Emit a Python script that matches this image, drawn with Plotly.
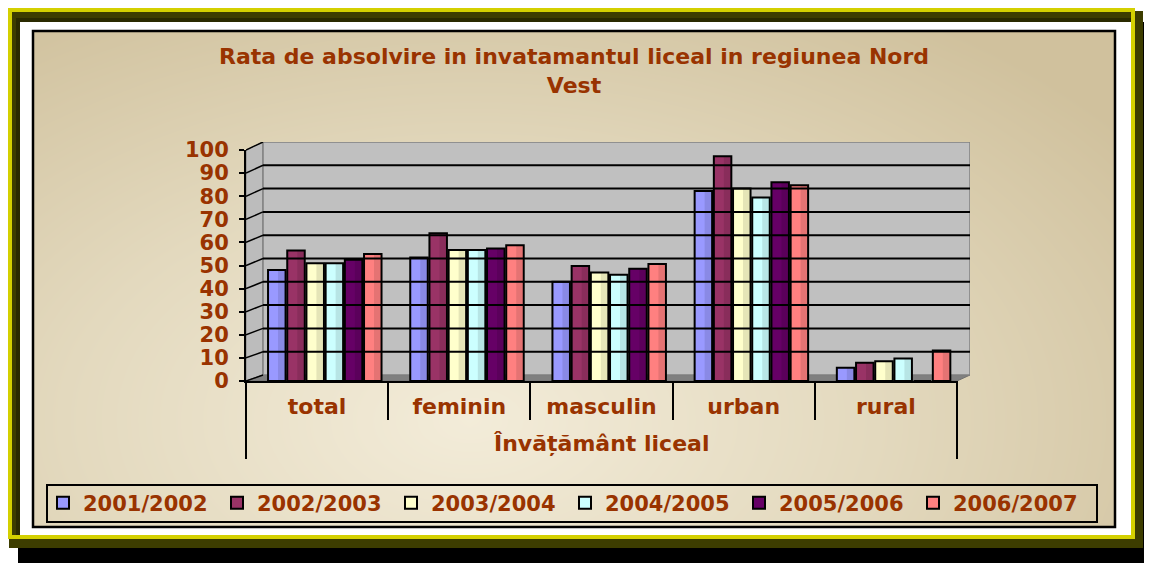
import numpy as np
import plotly.graph_objects as go

# ---------------- data ----------------
group_label = "Învățământ liceal"
categories = ["total", "feminin", "masculin", "urban", "rural"]
years = ["2001/2002", "2002/2003", "2003/2004", "2004/2005", "2005/2006", "2006/2007"]
v_2001 = [48.0, 53.5, 43.0, 82.3, 5.7]
v_2002 = [56.5, 64.0, 49.8, 97.3, 7.9]
v_2003 = [51.0, 56.7, 47.0, 83.3, 8.6]
v_2004 = [51.0, 56.7, 46.0, 79.4, 9.7]
v_2005 = [52.5, 57.4, 48.6, 86.0, 0.0]
v_2006 = [55.0, 58.8, 50.7, 84.7, 13.2]
series = [v_2001, v_2002, v_2003, v_2004, v_2005, v_2006]
y_ticks = list(range(0, 101, 10))
title_text = "Rata de absolvire in invatamantul liceal in regiunea Nord<br>Vest"

# ---------------- style ----------------
W, H = 1152, 563
OFF = 8  # page offset of the figure inside the browser
colors = ["#9999FF", "#993366", "#FFFFCC", "#CCFFFF", "#660066", "#FF8080"]
TXT = "#993300"
FONT = "DejaVu Sans"
BAR_W = 0.123
BAR_STEP = 0.135
BAR_START = -0.345


def px(x):
    return (x - OFF) / W


def py(y):
    return 1 - (y - OFF) / H


fig = go.Figure()

# background gradient of chart area (style only)
gx = np.linspace(33, 1115, 120)
gy = np.linspace(31, 527, 60)
GX, GY = np.meshgrid(gx, gy)
grad = np.sqrt(((GX - 470) / 740) ** 2 + ((GY - 420) / 440) ** 2)
fig.add_trace(go.Heatmap(x=gx, y=gy, z=grad, xaxis="x", yaxis="y",
                         colorscale=[[0, "#f3ecd9"], [0.5, "#e3d9be"], [1, "#d0c19d"]],
                         zmin=0, zmax=1.1, zsmooth="best", showscale=False, hoverinfo="skip"))

# wall subplot (x2/y2): empty placeholder trace
fig.add_trace(go.Scatter(x=[], y=[], xaxis="x2", yaxis="y2", showlegend=False))

# bars (x3/y3), each with a soft cylinder-like shade on its right side
for i, (name, vals, c) in enumerate(zip(years, series, colors)):
    off = BAR_START + i * BAR_STEP
    fig.add_trace(go.Bar(
        x=categories, y=vals, name=name,
        xaxis="x3", yaxis="y3",
        marker=dict(color=c, line=dict(color="black", width=2)),
        width=BAR_W, offset=off,
    ))
    fig.add_trace(go.Bar(
        x=categories, y=vals, name=name, showlegend=False, hoverinfo="skip",
        xaxis="x3", yaxis="y3",
        marker=dict(color="rgba(0,0,0,0.10)", line=dict(width=0)),
        width=BAR_W * 0.36, offset=off + BAR_W * 0.57,
    ))

# ---------------- 3D box geometry (screen pixels) ----------------
xF0, xF1, yF0, yF100 = 246, 957, 381, 150
xB0, xB1, yB0, yB100 = 263, 970, 375, 142
BX0, BX1, BY0, BY1 = 246, 970, 381, 142


def u(x):
    return (x - BX0) / (BX1 - BX0)


def v(y):
    return (BY0 - y) / (BY0 - BY1)


shapes = []
# frame (paper, below)
shapes.append(dict(type="rect", xref="paper", yref="paper", x0=px(18), x1=px(1160), y0=py(22), y1=py(572),
                   fillcolor="#000000", line=dict(width=0), layer="below"))
shapes.append(dict(type="rect", xref="paper", yref="paper", x0=px(9), x1=px(1143), y0=py(11), y1=py(548),
                   fillcolor="#3d3d00", line=dict(width=0), layer="below"))
shapes.append(dict(type="rect", xref="paper", yref="paper", x0=px(16), x1=px(1135), y0=py(18), y1=py(539),
                   fillcolor="#2a2a00", line=dict(width=0), layer="below"))
shapes.append(dict(type="rect", xref="paper", yref="paper", x0=px(20), x1=px(1131), y0=py(22), y1=py(535),
                   fillcolor="#ffffff", line=dict(width=0), layer="below"))
shapes.append(dict(type="rect", xref="paper", yref="paper", x0=px(10), x1=px(1133), y0=py(10), y1=py(537),
                   fillcolor="rgba(0,0,0,0)", line=dict(color="#d4d000", width=4), layer="below"))

# side wall, floor, back wall (x2/y2 subplot)
side = f"M{u(xF0)},{v(yF0)} L{u(xF0)},{v(yF100)} L{u(xB0)},{v(yB100)} L{u(xB0)},{v(yB0)} Z"
shapes.append(dict(type="path", xref="x2", yref="y2", path=side, fillcolor="#bcbcbc",
                   line=dict(color="#808080", width=1), layer="below"))
floor = f"M{u(xF0)},{v(yF0)} L{u(xB0)},{v(yB0)} L{u(xB1)},{v(yB0)} L{u(xF1)},{v(yF0)} Z"
shapes.append(dict(type="path", xref="x2", yref="y2", path=floor, fillcolor="#808080",
                   line=dict(color="#707070", width=1), layer="below"))
shapes.append(dict(type="rect", xref="x2", yref="y2", x0=u(xB0), x1=u(xB1), y0=v(yB0), y1=v(yB100),
                   fillcolor="#c0c0c0", line=dict(color="#808080", width=1.5), layer="below"))
for t in y_ticks:
    yb = yB0 - t * (yB0 - yB100) / 100
    yf = yF0 - t * (yF0 - yF100) / 100
    if 0 < t < 100:
        shapes.append(dict(type="line", xref="x2", yref="y2", x0=u(xB0), x1=u(xB1), y0=v(yb), y1=v(yb),
                           line=dict(color="black", width=2), layer="above"))
    shapes.append(dict(type="line", xref="x2", yref="y2", x0=u(xF0), x1=u(xB0), y0=v(yf), y1=v(yb),
                       line=dict(color="black", width=1.5), layer="above"))

# outer category dividers at both ends of the category axis
for d in (0, 1):
    shapes.append(dict(type="line", xref="x3 domain", yref="paper", x0=d, x1=d, y0=py(381), y1=py(459),
                       line=dict(color="black", width=2), layer="above"))

# chart area border and legend box (paper, above)
shapes.append(dict(type="rect", xref="paper", yref="paper", x0=px(33), x1=px(1115), y0=py(31), y1=py(527),
                   fillcolor="rgba(0,0,0,0)", line=dict(color="black", width=2.5), layer="above"))
shapes.append(dict(type="rect", xref="paper", yref="paper", x0=px(47), x1=px(1097), y0=py(485), y1=py(522),
                   fillcolor="rgba(0,0,0,0)", line=dict(color="black", width=2), layer="above"))

fig.update_layout(
    width=W, height=H,
    margin=dict(l=0, r=0, t=0, b=0, autoexpand=False),
    paper_bgcolor="white", plot_bgcolor="rgba(0,0,0,0)",
    barmode="overlay",
    showlegend=True,
    title=dict(text=title_text, x=px(574), xanchor="center", y=py(64), yanchor="middle", automargin=False,
               font=dict(family=FONT, size=22, color=TXT, weight="bold")),
    annotations=[dict(text=group_label, xref="x3 domain", x=0.5, xanchor="center",
                      yref="paper", y=py(444), yanchor="middle", showarrow=False,
                      font=dict(family=FONT, size=22, color=TXT, weight="bold"))],
    xaxis=dict(domain=[px(33), px(1115)], range=[33, 1115], visible=False, fixedrange=True, automargin=False),
    yaxis=dict(domain=[py(527), py(31)], range=[527, 31], visible=False, fixedrange=True, automargin=False),
    xaxis2=dict(domain=[px(BX0), px(BX1)], range=[0, 1], visible=False, anchor="y2", fixedrange=True,
                automargin=False),
    yaxis2=dict(domain=[py(BY0), py(BY1)], range=[0, 1], visible=False, anchor="x2", fixedrange=True,
                automargin=False),
    xaxis3=dict(domain=[px(xF0), px(xF1)], anchor="y3", type="category", showline=True, linecolor="black",
                linewidth=2, ticks="outside", tickson="boundaries", ticklen=37, tickwidth=2, tickcolor="black",
                ticklabelstandoff=5, automargin=False,
                tickfont=dict(family=FONT, size=22, color=TXT, weight="bold"),
                showgrid=False, fixedrange=True),
    yaxis3=dict(domain=[py(yF0), py(yF100)], anchor="x3", range=[0, 100], tickvals=y_ticks,
                showline=True, linecolor="black", linewidth=2, ticks="outside", ticklen=5,
                tickwidth=2, tickcolor="black", showgrid=False, zeroline=False,
                ticklabelstandoff=6, automargin=False,
                tickfont=dict(family=FONT, size=21, color=TXT, weight="bold"), fixedrange=True),
    legend=dict(orientation="h", x=px(565), xanchor="center", y=py(503), yanchor="middle",
                bgcolor="rgba(0,0,0,0)", font=dict(family=FONT, size=21, color=TXT, weight="bold"),
                traceorder="normal", entrywidth=129),
    shapes=shapes,
)

fig.write_html("out.html")
